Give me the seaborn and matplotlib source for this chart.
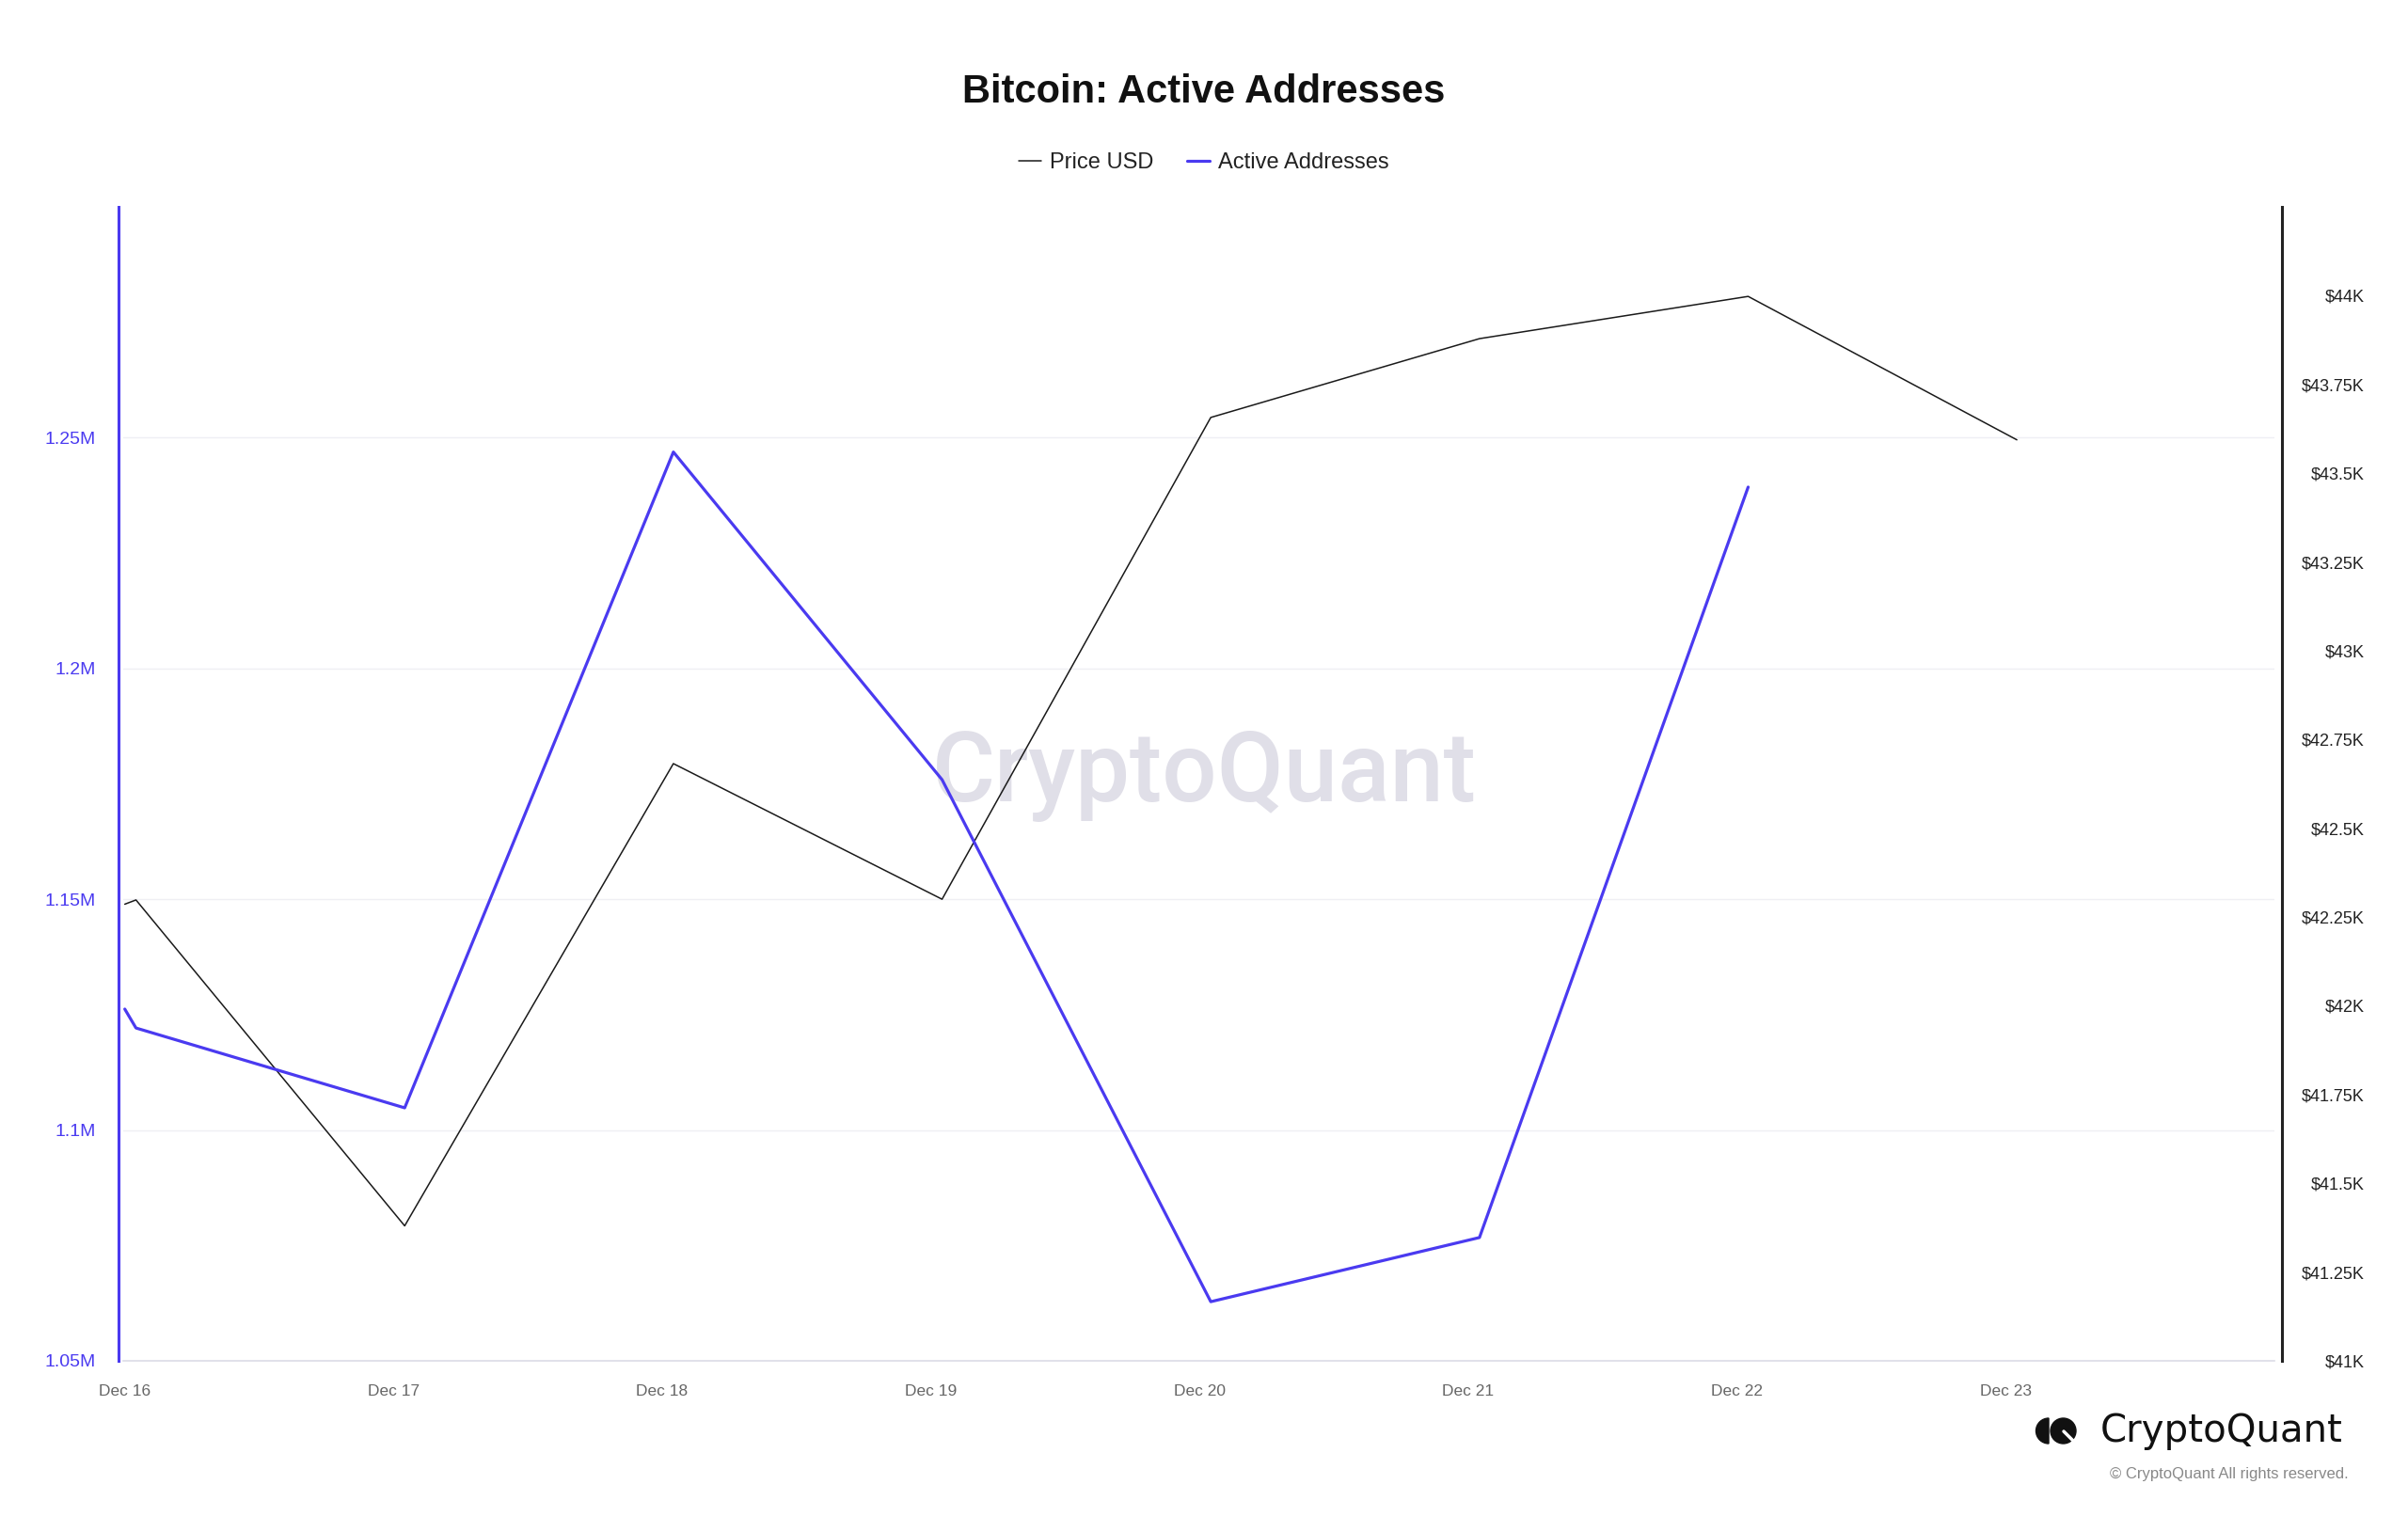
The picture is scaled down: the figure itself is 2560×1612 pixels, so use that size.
import pandas as pd
import numpy as np
import matplotlib
matplotlib.use("Agg")
import matplotlib.pyplot as plt
from matplotlib.patches import Wedge, Circle
from matplotlib.lines import Line2D
import seaborn as sns

# Veriler
price_dates = ["2023-12-16 00:00", "2023-12-16 01:00", "2023-12-17 01:00",
               "2023-12-18 01:00", "2023-12-19 01:00", "2023-12-20 01:00",
               "2023-12-21 01:00", "2023-12-22 01:00", "2023-12-23 01:00"]
price_usd = [42286, 42298, 41380, 42682, 42300, 43657, 43879, 43998, 43594]

aa_dates = price_dates[:8]
active_addresses = [1126200, 1122100, 1104800, 1246900, 1175900,
                    1062800, 1076700, 1239300]

tick_days = ["2023-12-16", "2023-12-17", "2023-12-18", "2023-12-19",
             "2023-12-20", "2023-12-21", "2023-12-22", "2023-12-23"]
left_ticks = [1050000, 1100000, 1150000, 1200000, 1250000, 1300000]
left_labels = ["1.05M", "1.1M", "1.15M", "1.2M", "1.25M", ""]
right_ticks = [41000, 41250, 41500, 41750, 42000, 42250, 42500, 42750,
               43000, 43250, 43500, 43750, 44000, 44250]
right_labels = ["$41K", "$41.25K", "$41.5K", "$41.75K", "$42K", "$42.25K",
                "$42.5K", "$42.75K", "$43K", "$43.25K", "$43.5K", "$43.75K",
                "$44K", ""]

BLUE = "#4a3af0"
DARK = "#1a1a1a"
LEFT_LIM = (1050000, 1300000)
RIGHT_LIM = (41000, 44250)

sns.set_theme(style="white")
plt.rcParams["font.family"] = ["Liberation Sans", "DejaVu Sans"]

df_price = pd.DataFrame({"date": pd.to_datetime(price_dates), "price": price_usd})
df_aa = pd.DataFrame({"date": pd.to_datetime(aa_dates), "active": active_addresses})

fig = plt.figure(figsize=(25.6, 16.12), dpi=100)
fig.patch.set_facecolor("white")
ax = fig.add_axes([0.0512, 0.1024, 0.8933, 0.7611])
ax2 = ax.twinx()

sns.lineplot(data=df_aa, x="date", y="active", ax=ax, color=BLUE,
             linewidth=2.3, label="Active Addresses")
sns.lineplot(data=df_price, x="date", y="price", ax=ax2, color=DARK,
             linewidth=1.1, label="Price USD")
ax.get_legend().remove()
ax2.get_legend().remove()

# mavi çizgi üstte kalsın
ax.set_zorder(ax2.get_zorder() + 1)
ax.patch.set_visible(False)

# Spine ayarları önce (set_position tickleri sıfırlıyor)
for s in ["top", "right"]:
    ax.spines[s].set_visible(False)
ax.spines["left"].set_color(BLUE)
ax.spines["left"].set_linewidth(2.2)
ax.spines["left"].set_position(("outward", 4))
ax.spines["bottom"].set_color("#dcdce6")
ax.spines["bottom"].set_linewidth(1.2)
for s in ["top", "left", "bottom"]:
    ax2.spines[s].set_visible(False)
ax2.spines["right"].set_color("#222222")
ax2.spines["right"].set_linewidth(2.2)
ax2.spines["right"].set_position(("outward", 6))

ax.set_xlim(pd.Timestamp("2023-12-15 23:52"), pd.Timestamp("2023-12-24 00:00"))
ax.set_ylim(*LEFT_LIM)
ax2.set_ylim(*RIGHT_LIM)

ax.set_xticks(pd.to_datetime(tick_days))
ax.set_xticklabels([pd.Timestamp(d).strftime("%b %d") for d in tick_days])
ax.set_yticks(left_ticks)
ax.set_yticklabels(left_labels)
ax2.set_yticks(right_ticks)
ax2.set_yticklabels(right_labels)

# yatay ızgara fiyat çizgisinin altında kalsın diye alt eksende çiziliyor
scale = (RIGHT_LIM[1] - RIGHT_LIM[0]) / (LEFT_LIM[1] - LEFT_LIM[0])
grid_pos = [RIGHT_LIM[0] + (v - LEFT_LIM[0]) * scale for v in left_ticks]
ax2.set_yticks(grid_pos, minor=True)
ax2.set_axisbelow(True)
ax2.grid(axis="y", which="minor", color="#efeff4", linewidth=1)
ax2.grid(axis="y", which="major", visible=False)
ax.grid(False)

ax.set_xlabel("")
ax.set_ylabel("")
ax2.set_ylabel("")

ax.tick_params(axis="x", length=11, width=1.2, color="#dcdce6",
               labelsize=12.5, labelcolor="#666666", pad=7)
ax.tick_params(axis="y", length=0, pad=17, labelsize=14, labelcolor=BLUE)
ax2.tick_params(axis="y", which="both", length=0)
ax2.tick_params(axis="y", which="major", pad=63, labelsize=13,
                labelcolor="#222222")
for lbl in ax2.get_yticklabels():
    lbl.set_horizontalalignment("right")

# filigran
ax2.text(0.5, 0.4888, "CryptoQuant", transform=fig.transFigure,
         ha="center", va="center", fontsize=74, family="Roboto",
         weight="medium", color="#e0dfe8", zorder=0)

# başlık ve lejant
fig.text(0.5, 0.939, "Bitcoin: Active Addresses", ha="center", va="center",
         fontsize=30, weight="bold", color="#111111")
h1, l1 = ax2.get_legend_handles_labels()
h2, l2 = ax.get_legend_handles_labels()
fig.legend(h1 + h2, l1 + l2, loc="center", bbox_to_anchor=(0.5, 0.8927),
           ncol=2, frameon=False, fontsize=17, handlelength=1.0,
           handletextpad=0.4, columnspacing=1.5, labelcolor="#222222")

# logo
tr = fig.dpi_scale_trans
fig.add_artist(Wedge((21.78, 0.905), 0.135, 90, 270, color="#111111", transform=tr))
fig.add_artist(Circle((21.935, 0.905), 0.135, color="#111111", transform=tr))
fig.add_artist(Line2D([21.94, 22.05], [0.90, 0.79], color="white",
                      linewidth=2.5, transform=tr))
fig.text(0.8723, 0.0561, "CryptoQuant", ha="left", va="center",
         fontsize=29, family="DejaVu Sans", color="#111111")
fig.text(0.9754, 0.0279, "\u00a9 CryptoQuant All rights reserved.",
         ha="right", va="center", fontsize=12, color="#888888")

fig.savefig("out.png", dpi=100, facecolor="white")
